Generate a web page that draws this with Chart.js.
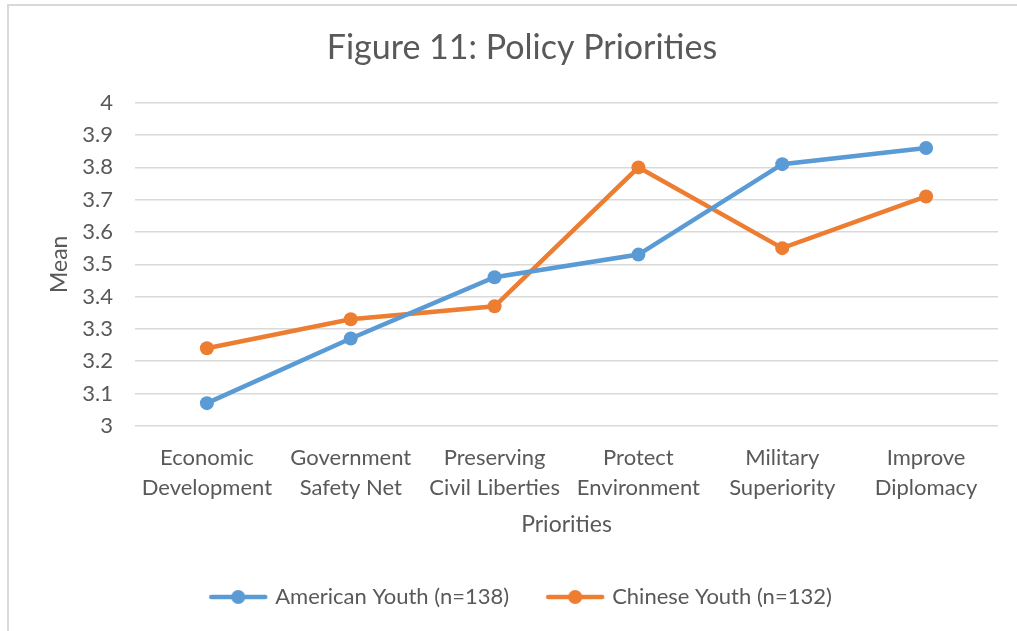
<!DOCTYPE html>
<html>
<head>
<meta charset="utf-8">
<script src="https://cdn.jsdelivr.net/npm/chart.js@4/dist/chart.umd.min.js"></script>
<style>
    html, body { margin: 0; padding: 0; background: #fff; overflow: hidden; }
    #frame {
        position: absolute; left: 7px; top: 4px; width: 1030px; height: 650px;
        border-left: 2px solid #d9d9d9; border-top: 2px solid #d9d9d9;
    }
    #wrap { position: absolute; left: 0; top: 0; width: 1017px; height: 631px; }
</style>
</head>
<body>
<div id="frame"></div>
<div id="wrap"><canvas id="policyChart" width="1017" height="631"></canvas></div>
<script>
// Figure 11: Policy Priorities

const categories = [
    ['Economic', 'Development'],
    ['Government', 'Safety Net'],
    ['Preserving', 'Civil Liberties'],
    ['Protect', 'Environment'],
    ['Military', 'Superiority'],
    ['Improve', 'Diplomacy']
];
const americanYouth = [3.07, 3.27, 3.46, 3.53, 3.81, 3.86];
const chineseYouth = [3.24, 3.33, 3.37, 3.80, 3.55, 3.71];
const yTicks = [3, 3.1, 3.2, 3.3, 3.4, 3.5, 3.6, 3.7, 3.8, 3.9, 4];

const BLUE = '#5B9BD5';
const ORANGE = '#ED7D31';
const TEXT = '#595959';
const FONT = 'Lato, "Open Sans", sans-serif';

// legend swatch: line with a dot, like Excel
function legendSwatch(color) {
    const c = document.createElement('canvas');
    c.width = 64;
    c.height = 16;
    const g = c.getContext('2d');
    g.strokeStyle = color;
    g.lineWidth = 4.5;
    g.lineCap = 'round';
    g.beginPath();
    g.moveTo(5, 8);
    g.lineTo(59, 8);
    g.stroke();
    g.fillStyle = color;
    g.beginPath();
    g.arc(32, 8, 7, 0, Math.PI * 2);
    g.fill();
    return c;
}

const ctx = document.getElementById('policyChart').getContext('2d');

new Chart(ctx, {
    type: 'line',
    data: {
        labels: categories,
        datasets: [{
            label: 'American Youth (n=138)',
            data: americanYouth,
            borderColor: BLUE,
            backgroundColor: BLUE,
            borderWidth: 4.5,
            pointRadius: 7,
            pointHoverRadius: 7,
            pointBorderWidth: 0,
            pointStyle: 'circle',
            tension: 0
        }, {
            label: 'Chinese Youth (n=132)',
            data: chineseYouth,
            borderColor: ORANGE,
            backgroundColor: ORANGE,
            borderWidth: 4.5,
            pointRadius: 7,
            pointHoverRadius: 7,
            pointBorderWidth: 0,
            pointStyle: 'circle',
            tension: 0
        }]
    },
    options: {
        responsive: false,
        animation: false,
        layout: {
            padding: { left: 46, right: 19, top: 20, bottom: 13 }
        },
        plugins: {
            title: {
                display: true,
                text: 'Figure 11: Policy Priorities',
                color: TEXT,
                font: { family: FONT, size: 34, weight: 'normal' },
                padding: { top: 8, bottom: 34 }
            },
            legend: {
                position: 'bottom',
                labels: {
                    color: TEXT,
                    font: { family: FONT, size: 22 },
                    usePointStyle: true,
                    pointStyleWidth: 52,
                    padding: 40,
                    generateLabels: function(chart) {
                        return chart.data.datasets.map(function(ds, i) {
                            return {
                                text: ds.label,
                                fontColor: TEXT,
                                pointStyle: legendSwatch(ds.borderColor),
                                datasetIndex: i,
                                hidden: false,
                                lineWidth: 0,
                                strokeStyle: 'transparent'
                            };
                        });
                    }
                }
            },
            tooltip: { enabled: false }
        },
        scales: {
            x: {
                offset: true,
                grid: { display: false, drawTicks: false },
                border: { display: false },
                ticks: {
                    color: TEXT,
                    font: { family: FONT, size: 22, lineHeight: 1.36 },
                    maxRotation: 0,
                    autoSkip: false,
                    padding: 17
                },
                title: {
                    display: true,
                    text: 'Priorities',
                    color: TEXT,
                    font: { family: FONT, size: 23, lineHeight: 0.8 },
                    padding: { top: -4, bottom: 12 }
                }
            },
            y: {
                min: 3,
                max: 4,
                afterBuildTicks: function(axis) {
                    axis.ticks = yTicks.map(function(v) { return { value: v }; });
                },
                afterFit: function(axis) {
                    axis.width = 89;
                },
                grid: {
                    color: '#d9d9d9',
                    lineWidth: 1.5,
                    drawTicks: false
                },
                border: { display: false },
                ticks: {
                    color: TEXT,
                    font: { family: FONT, size: 22 },
                    padding: 22,
                    callback: function(value) { return String(Math.round(value * 10) / 10); }
                },
                title: {
                    display: true,
                    text: 'Mean',
                    color: TEXT,
                    font: { family: FONT, size: 23 },
                    padding: { top: 0, bottom: 12 }
                }
            }
        }
    }
});
</script>
</body>
</html>
